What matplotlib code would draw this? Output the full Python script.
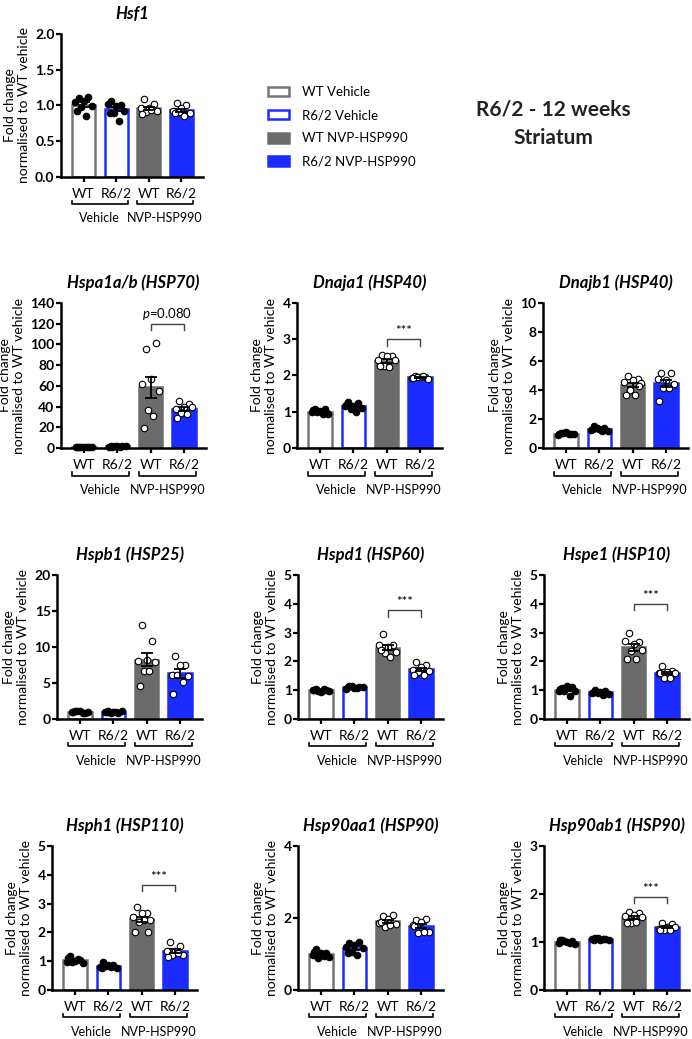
import numpy as np
import matplotlib
matplotlib.use('Agg')
import matplotlib.pyplot as plt
import matplotlib.transforms as mtransforms
from matplotlib.patches import Patch

plt.rcParams['font.family'] = ['Lato', 'DejaVu Sans']
plt.rcParams['mathtext.fontset'] = 'custom'
plt.rcParams['mathtext.it'] = 'Lato:italic'
plt.rcParams['mathtext.rm'] = 'Lato'

# ------------------------------------------------------------------
# Data: fold change per animal, groups = WT veh, R6/2 veh, WT NVP, R6/2 NVP
# ------------------------------------------------------------------
groups = ['WT', 'R6/2', 'WT', 'R6/2']
treatments = ['Vehicle', 'NVP-HSP990']
legend_labels = ['WT Vehicle', 'R6/2 Vehicle', 'WT NVP-HSP990', 'R6/2 NVP-HSP990']

hsf1 = [[1.11, 1.12, 1.06, 1.05, 0.99, 0.98, 0.86, 0.93],
        [1.06, 1.00, 0.99, 1.02, 0.93, 0.89, 0.79, 0.90],
        [1.09, 1.02, 0.97, 0.96, 0.93, 0.91, 0.94, 0.88],
        [1.03, 1.00, 0.96, 0.92, 0.90, 0.91, 0.86, 0.89]]
hspa1 = [[1.0, 1.1, 0.9, 1.05, 0.95, 1.0, 0.9, 1.1],
         [1.4, 1.8, 1.5, 1.2, 2.0, 1.6, 1.3, 1.7],
         [96, 101, 67, 62, 55, 37, 31, 19],
         [45, 42.8, 40, 38, 40, 33.8, 33, 29]]
dnaja1 = [[1.08, 1.07, 1.02, 0.98, 0.95, 1.00, 0.93, 1.04, 0.97],
          [1.26, 1.25, 1.15, 1.17, 1.10, 1.08, 0.98, 1.20],
          [2.57, 2.53, 2.53, 2.44, 2.44, 2.25, 2.23, 2.25],
          [1.98, 1.96, 1.95, 1.92, 1.90, 1.97, 1.99, 1.93]]
dnajb1 = [[1.05, 0.95, 1.10, 0.90, 1.00, 1.05, 0.95, 1.00],
          [1.50, 1.40, 1.30, 1.25, 1.20, 1.35, 1.15, 1.30],
          [4.94, 4.76, 4.71, 4.53, 4.48, 4.02, 3.68, 3.68, 4.30],
          [5.17, 5.17, 4.71, 4.76, 4.44, 4.14, 4.14, 3.22]]
hspb1 = [[1.10, 0.90, 1.05, 0.95, 1.00, 1.10, 0.90, 1.00],
         [1.05, 0.90, 1.00, 0.95, 1.10, 0.90, 1.00, 0.95],
         [13.1, 10.8, 8.2, 8.05, 7.9, 6.67, 6.6, 4.6],
         [8.75, 7.5, 7.5, 6.1, 6.0, 6.1, 5.2, 3.5]]
hspd1 = [[1.05, 1.00, 0.95, 1.02, 0.98, 0.96, 1.04, 1.00],
         [1.15, 1.12, 1.08, 1.05, 1.10, 1.13, 1.06, 1.10],
         [2.94, 2.57, 2.51, 2.57, 2.34, 2.28, 2.16, 2.40],
         [1.99, 1.87, 1.82, 1.70, 1.68, 1.64, 1.53, 1.53]]
hspe1 = [[1.07, 1.10, 1.13, 0.96, 0.96, 0.96, 0.80, 1.05],
         [1.00, 0.98, 0.95, 0.90, 0.88, 0.92, 0.85, 0.95],
         [3.00, 2.67, 2.59, 2.70, 2.41, 2.35, 2.09, 2.09],
         [1.83, 1.66, 1.62, 1.60, 1.60, 1.42, 1.42, 1.60]]
hsph1 = [[1.18, 1.04, 1.02, 0.96, 0.93, 0.98, 1.06, 1.10],
         [0.96, 0.87, 0.87, 0.80, 0.78, 0.82, 0.81, 0.75],
         [2.89, 2.66, 2.69, 2.55, 2.43, 2.35, 2.43, 2.03, 2.03],
         [1.68, 1.53, 1.37, 1.37, 1.22, 1.22, 1.30, 1.16]]
hsp90aa1 = [[1.14, 1.04, 1.04, 0.97, 0.93, 0.88, 0.94, 1.06],
            [1.31, 1.34, 1.25, 1.20, 1.16, 1.06, 0.97, 1.02],
            [2.06, 2.07, 1.96, 1.85, 1.83, 1.76, 1.80, 1.90],
            [1.94, 1.96, 1.90, 1.80, 1.62, 1.59, 1.62, 1.78]]
hsp90ab1 = [[1.05, 1.03, 1.00, 0.98, 0.96, 1.02, 0.97, 1.04],
            [1.08, 1.07, 1.05, 1.06, 1.04, 1.09, 1.06, 1.05],
            [1.63, 1.60, 1.56, 1.54, 1.53, 1.39, 1.42, 1.40],
            [1.39, 1.38, 1.32, 1.28, 1.32, 1.25, 1.25, 1.26]]

# ------------------------------------------------------------------
# Styles
# ------------------------------------------------------------------
GREY = '#6b6b6b'
BLUE = '#1a2cff'
fills = ['white', 'white', GREY, BLUE]
edges = ['#757575', BLUE, GREY, BLUE]
dot_fill = ['black', 'black', 'white', 'white']
jitter = np.array([-0.15, 0.15, 0.0, -0.25, 0.25, -0.08, 0.08, -0.2, 0.2])

W, H = 692, 1039
fig = plt.figure(figsize=(W / 100, H / 100), dpi=100)


def px_rect(left, top, width, height):
    return [left / W, 1 - (top + height) / H, width / W, height / H]


def draw_panel(rect, title, pts, ymax, ystep, fmt='{:.0f}', sig=None, sig_y=None):
    ax = fig.add_axes(px_rect(*rect))
    x = np.arange(4)
    for i in range(4):
        vals = np.array(pts[i], dtype=float)
        m = vals.mean()
        sem = vals.std(ddof=1) / np.sqrt(len(vals))
        ax.bar(x[i], m, width=0.7, color=fills[i], edgecolor=edges[i], linewidth=1.8, zorder=2)
        ax.scatter(x[i] + jitter[:len(vals)], vals, s=22, facecolor=dot_fill[i],
                   edgecolor='black', linewidth=0.8, zorder=3, clip_on=False)
        ax.errorbar(x[i], m, yerr=sem, color='black', capsize=4, elinewidth=1.3,
                    capthick=1.3, zorder=4)

    ax.set_xlim(-0.69, 3.66)
    ax.set_ylim(0, ymax)
    ticks = np.arange(0, ymax + ystep / 2, ystep)
    ax.set_yticks(ticks)
    ax.set_yticklabels([fmt.format(t) for t in ticks], fontweight='bold', fontsize=10)
    ax.set_xticks(x)
    ax.set_xticklabels(groups, fontsize=10)
    for s in ['top', 'right']:
        ax.spines[s].set_visible(False)
    for s in ['left', 'bottom']:
        ax.spines[s].set_linewidth(1.8)
    ax.tick_params(axis='y', width=1.6, length=3.6, pad=1)
    ax.tick_params(axis='x', width=1.6, length=3.6, pad=4)
    ax.set_ylabel('Fold change\nnormalised to WT vehicle', fontsize=10, linespacing=1.15,
                  labelpad=4)
    ax.set_title(title, fontsize=12, fontweight='bold', fontstyle='italic', pad=11)

    # group brackets under the tick labels
    trans = mtransforms.blended_transform_factory(ax.transData, ax.transAxes)
    for (x0, x1), lab in zip([(-0.36, 1.36), (1.64, 3.36)], treatments):
        ax.plot([x0, x0, x1, x1], [-0.165, -0.19, -0.19, -0.165], color='black',
                lw=1.2, transform=trans, clip_on=False)
        ax.text((x0 + x1) / 2, -0.29, lab, transform=trans, ha='center', va='center',
                fontsize=9)

    # significance bracket between NVP groups
    if sig is not None:
        d = ymax * 0.045
        ax.plot([2, 2, 3, 3], [sig_y - d, sig_y, sig_y, sig_y - d], color='#444444',
                lw=1.0, zorder=5)
        ax.text(2.5, sig_y + ymax * 0.015, sig, ha='center', va='bottom', fontsize=9.5)
    return ax


draw_panel((61, 34, 142, 143), 'Hsf1', hsf1, 2.0, 0.5, fmt='{:.1f}')
draw_panel((61, 303, 145, 145), 'Hspa1a/b (HSP70)', hspa1, 140, 20,
           sig=r'$\it{p}$=0.080', sig_y=120)
draw_panel((297, 303, 145, 145), 'Dnaja1 (HSP40)', dnaja1, 4, 1, sig='***', sig_y=3.0)
draw_panel((543, 303, 145, 145), 'Dnajb1 (HSP40)', dnajb1, 10, 2)
draw_panel((57, 575, 145, 144), 'Hspb1 (HSP25)', hspb1, 20, 5)
draw_panel((298, 575, 145, 144), 'Hspd1 (HSP60)', hspd1, 5, 1, sig='***', sig_y=3.78)
draw_panel((544, 575, 145, 144), 'Hspe1 (HSP10)', hspe1, 5, 1, sig='***', sig_y=4.0)
draw_panel((52, 846, 145, 144), 'Hsph1 (HSP110)', hsph1, 5, 1, sig='***', sig_y=3.65)
draw_panel((298, 846, 145, 144), 'Hsp90aa1 (HSP90)', hsp90aa1, 4, 2)
draw_panel((544, 846, 145, 144), 'Hsp90ab1 (HSP90)', hsp90ab1, 3, 1, sig='***', sig_y=1.94)

# legend
handles = [Patch(facecolor=f, edgecolor=e, linewidth=1.8) for f, e in zip(fills, edges)]
fig.legend(handles, legend_labels, loc='upper left', bbox_to_anchor=(268 / W, 1 - 86 / H),
           frameon=False, fontsize=9.5, handlelength=1.6, handleheight=0.76,
           labelspacing=0.85, handletextpad=1.0, borderpad=0, borderaxespad=0)

fig.text(553 / W, 1 - 124 / H, 'R6/2 - 12 weeks\nStriatum', ha='center', va='center',
         fontsize=15, fontweight='bold', linespacing=1.55, color='#222222')

fig.savefig('out.png', dpi=100)
